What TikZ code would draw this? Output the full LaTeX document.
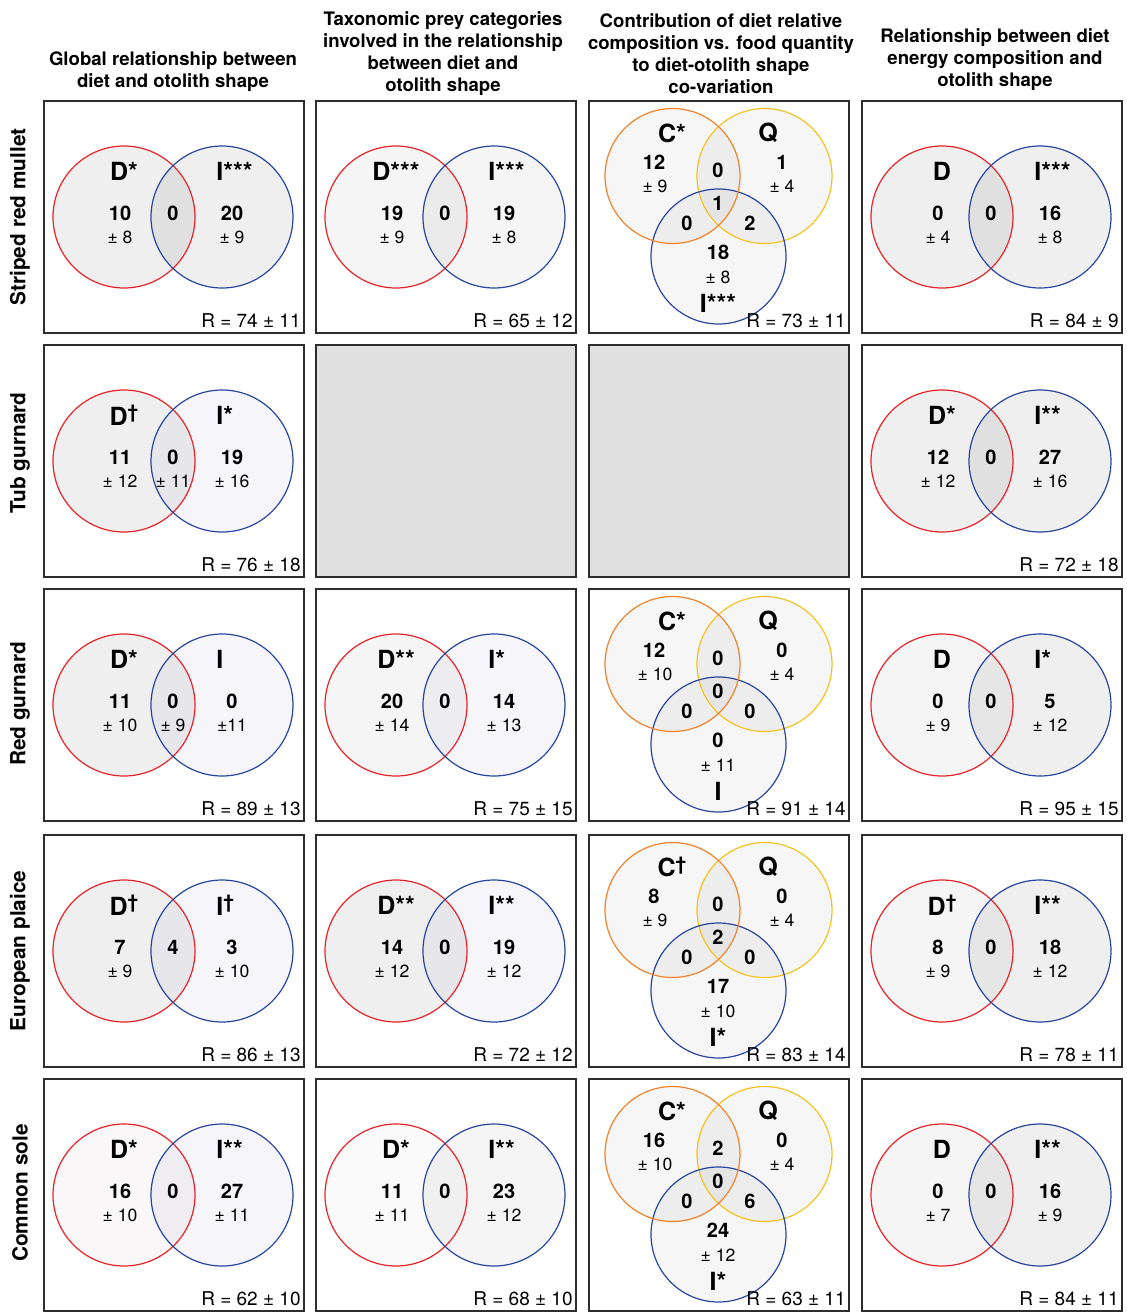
\documentclass[tikz,border=0pt]{standalone}
\usepackage{fontspec}
\setmainfont{TeX Gyre Heros}
\usepackage{tikz}
\usetikzlibrary{positioning}

\definecolor{vred}{RGB}{230,35,40}
\definecolor{vblue}{RGB}{40,70,160}
\definecolor{vorange}{RGB}{240,130,40}
\definecolor{vyellow}{RGB}{245,195,30}
\definecolor{blankgray}{RGB}{224,224,224}
\definecolor{framegray}{RGB}{45,45,45}
\definecolor{tintblue}{RGB}{80,80,170}
\definecolor{tintpink}{RGB}{130,95,95}

\newcommand{\sdag}{\raisebox{0.5ex}{\fontsize{9.5}{9.5}\selectfont †}}

\tikzset{
  panel/.style={draw=framegray, line width=0.65pt},
  blankpanel/.style={panel, fill=blankgray},
  setD/.style={draw=vred, line width=0.6pt},
  setI/.style={draw=vblue, line width=0.6pt},
  setC/.style={draw=vorange, line width=0.6pt},
  setQ/.style={draw=vyellow, line width=0.6pt},
  gry/.style={fill=black, fill opacity=0.063},
  lgry/.style={fill=black, fill opacity=0.04},
  blu/.style={fill=tintblue, fill opacity=0.057},
  pnk/.style={fill=tintpink, fill opacity=0.05},
  lpnk/.style={fill=tintpink, fill opacity=0.03},
  tri/.style={fill=black, fill opacity=0.037},
  setlab/.style={font=\fontsize{12.5}{14}\selectfont\bfseries, inner sep=0pt},
  cnt/.style={font=\fontsize{10}{12}\selectfont\bfseries, inner sep=0pt},
  sdv/.style={font=\fontsize{8.8}{10}\selectfont, inner sep=0pt},
  rlab/.style={font=\fontsize{9.5}{11}\selectfont, anchor=east, inner sep=0pt},
  colhead/.style={font=\fontsize{9.3}{11}\selectfont\bfseries, align=center},
  rowhead/.style={font=\fontsize{10.4}{12}\selectfont\bfseries, rotate=90}
}

\begin{document}
\begin{tikzpicture}[x=0.5pt, y=-0.5pt]
\useasboundingbox (0,0) rectangle (1126,1312);

%---------------------------------------
% Column and row headings
%---------------------------------------
\node[colhead] (h1) at (173,72) {Global relationship between\\diet and otolith shape};
\node[colhead] (h2) at (443,54) {Taxonomic prey categories\\involved in the relationship\\between diet and\\otolith shape};
\node[colhead] (h3) at (721,54) {Contribution of diet relative\\composition vs. food quantity\\to diet-otolith shape\\co-variation};
\node[colhead] (h4) at (995,60) {Relationship between diet\\energy composition and\\otolith shape};

\node[rowhead] (r1) at (20,217) {Striped red mullet};
\node[rowhead] (r2) at (20,453) {Tub gurnard};
\node[rowhead] (r3) at (20,704) {Red gurnard};
\node[rowhead] (r4) at (20,951) {European plaice};
\node[rowhead] (r5) at (20,1193) {Common sole};

%---------------------------------------
% Two-set panels (D = diet, I = individual)
%---------------------------------------
\foreach \pid/\cx/\cy/\dlab/\ilab/\dnum/\dsd/\mnum/\msd/\inum/\isd/\rval/\dst/\ist in {
  p11/44/101/{D*}/{I***}/10/{± 8}/0/{}/20/{± 9}/{R = 74 ± 11}/gry/gry,
  p12/316/101/{D***}/{I***}/19/{± 9}/0/{}/19/{± 8}/{R = 65 ± 12}/lgry/lgry,
  p14/862/101/D/{I***}/0/{± 4}/0/{}/16/{± 8}/{R = 84 ± 9}/gry/gry,
  p21/44/345/{D\sdag}/{I*}/11/{± 12}/0/{± 11}/19/{± 16}/{R = 76 ± 18}/gry/blu,
  p24/862/345/{D*}/{I**}/12/{± 12}/0/{}/27/{± 16}/{R = 72 ± 18}/gry/gry,
  p31/44/589/{D*}/I/11/{± 10}/0/{± 9}/0/{±11}/{R = 89 ± 13}/gry/blu,
  p32/316/589/{D**}/{I*}/20/{± 14}/0/{}/14/{± 13}/{R = 75 ± 15}/lgry/blu,
  p34/862/589/D/{I*}/0/{± 9}/0/{}/5/{± 12}/{R = 95 ± 15}/lgry/gry,
  p41/44/835/{D\sdag}/{I\sdag}/7/{± 9}/4/{}/3/{± 10}/{R = 86 ± 13}/gry/blu,
  p42/316/835/{D**}/{I**}/14/{± 12}/0/{}/19/{± 12}/{R = 72 ± 12}/gry/blu,
  p44/862/835/{D\sdag}/{I**}/8/{± 9}/0/{}/18/{± 12}/{R = 78 ± 11}/lgry/gry,
  p51/44/1079/{D*}/{I**}/16/{± 10}/0/{}/27/{± 11}/{R = 62 ± 10}/pnk/blu,
  p52/316/1079/{D*}/{I**}/11/{± 11}/0/{}/23/{± 12}/{R = 68 ± 10}/lpnk/lgry,
  p54/862/1079/D/{I**}/0/{± 7}/0/{}/16/{± 9}/{R = 84 ± 11}/lgry/gry}
{
  \begin{scope}[shift={(\cx,\cy)}]
    \draw[panel] (0,0) rectangle (260,232);
    \fill[\dst] (80,116) circle (71);
    \fill[\ist] (178,116) circle (71);
    \draw[setD] (80,116) circle (71);
    \draw[setI] (178,116) circle (71);
    \node[setlab] (\pid-dl) at (80,70) {\dlab};
    \node[setlab, anchor=west] (\pid-il) at (172,70) {\ilab};
    \node[cnt] (\pid-dn) at (76,112) {\dnum};
    \node[sdv] (\pid-ds) at (76,136) {\dsd};
    \node[cnt] (\pid-mn) at (129,112) {\mnum};
    \node[sdv] (\pid-ms) at (129,136) {\msd};
    \node[cnt] (\pid-in) at (188,112) {\inum};
    \node[sdv] (\pid-is) at (188,136) {\isd};
    \node[rlab] (\pid-r) at (257,220) {\rval};
  \end{scope}
}

%---------------------------------------
% Three-set panels (C = composition, Q = quantity, I = individual)
%---------------------------------------
\foreach \pid/\cx/\cy/\clab/\qlab/\ilab/\cnum/\csd/\qnum/\qsd/\cq/\cqi/\ci/\qi/\inum/\isd/\rval in {
  p13/589/101/{C*}/Q/{I***}/12/{± 9}/1/{± 4}/0/1/0/2/18/{± 8}/{R = 73 ± 11},
  p33/589/589/{C*}/Q/I/12/{± 10}/0/{± 4}/0/0/0/0/0/{± 11}/{R = 91 ± 14},
  p43/589/835/{C\sdag}/Q/{I*}/8/{± 9}/0/{± 4}/0/2/0/0/17/{± 10}/{R = 83 ± 14},
  p53/589/1079/{C*}/Q/{I*}/16/{± 10}/0/{± 4}/2/0/0/6/24/{± 12}/{R = 63 ± 11}}
{
  \begin{scope}[shift={(\cx,\cy)}]
    \draw[panel] (0,0) rectangle (260,232);
    \fill[tri] (83.5,75) circle (67.5);
    \fill[tri] (175.5,75) circle (67.5);
    \fill[tri] (129.5,155.5) circle (67.5);
    \draw[setQ] (175.5,75) circle (67.5);
    \draw[setI] (129.5,155.5) circle (67.5);
    \draw[setC] (83.5,75) circle (67.5);
    \node[setlab] (\pid-cl) at (83,32) {\clab};
    \node[setlab] (\pid-ql) at (179,32) {\qlab};
    \node[setlab] (\pid-il) at (129,202) {\ilab};
    \node[cnt] (\pid-cn) at (65,61) {\cnum};
    \node[sdv] (\pid-cs) at (66,85) {\csd};
    \node[cnt] (\pid-qn) at (193,61) {\qnum};
    \node[sdv] (\pid-qs) at (193,85) {\qsd};
    \node[cnt] (\pid-cq) at (129,69) {\cq};
    \node[cnt] (\pid-cqi) at (129,102) {\cqi};
    \node[cnt] (\pid-ci) at (98,122) {\ci};
    \node[cnt] (\pid-qi) at (161,122) {\qi};
    \node[cnt] (\pid-in) at (129,151) {\inum};
    \node[sdv] (\pid-is) at (129,176) {\isd};
    \node[rlab] (\pid-r) at (257,220) {\rval};
  \end{scope}
}

%---------------------------------------
% Empty panels (tub gurnard)
%---------------------------------------
\draw[blankpanel] (316,345) rectangle ++(260,232);
\draw[blankpanel] (589,345) rectangle ++(260,232);

\end{tikzpicture}
\end{document}
